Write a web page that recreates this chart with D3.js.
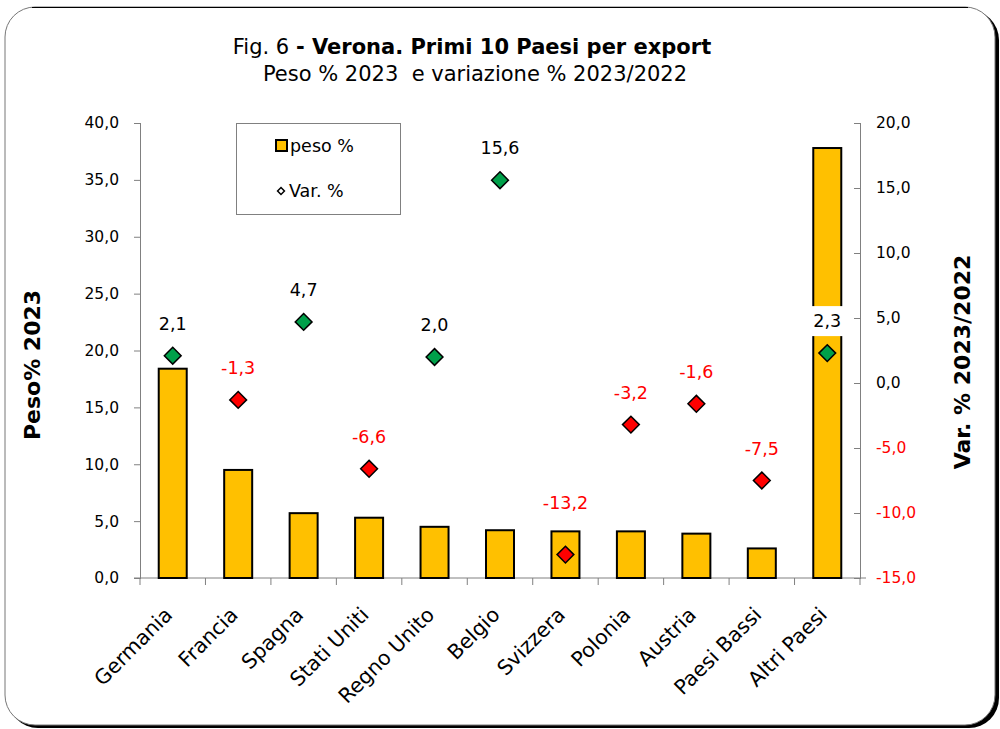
<!DOCTYPE html>
<html>
<head>
<meta charset="utf-8">
<script src="https://cdn.jsdelivr.net/npm/d3@7"></script>
<style>
  body { margin: 0; background: #fff; }
  svg { font-family: "DejaVu Sans", Verdana, sans-serif; }
</style>
</head>
<body>
<svg id="chart" width="1000" height="729"></svg>
<script>
var paesi = ['Germania', 'Francia', 'Spagna', 'Stati Uniti', 'Regno Unito', 'Belgio',
  'Svizzera', 'Polonia', 'Austria', 'Paesi Bassi', 'Altri Paesi'];
var peso = [18.4, 9.5, 5.7, 5.3, 4.5, 4.2, 4.1, 4.1, 3.9, 2.6, 37.8];
var variazione = [2.1, -1.3, 4.7, -6.6, 2.0, 15.6, -13.2, -3.2, -1.6, -7.5, 2.3];
var tickPeso = [0, 5, 10, 15, 20, 25, 30, 35, 40];
var tickVar = [-15, -10, -5, 0, 5, 10, 15, 20];

function drawChart() {
  var svg = d3.select('#chart');
  var fmt = function(v) { return v.toFixed(1).replace('.', ','); };
  var fam = '"DejaVu Sans", Verdana, sans-serif';

  // cornice con ombra
  svg.append('rect')
      .attr('x', 8).attr('y', 10).attr('width', 991).attr('height', 718)
      .attr('rx', 30).attr('fill', '#000');
  svg.append('rect')
      .attr('x', 5).attr('y', 7).attr('width', 990).attr('height', 718)
      .attr('rx', 30).attr('fill', '#fff').attr('stroke', '#777').attr('stroke-width', 1);
  svg.append('line')
      .attr('x1', 32).attr('x2', 968).attr('y1', 7.5).attr('y2', 7.5)
      .attr('stroke', '#000').attr('stroke-width', 1.2);

  // titolo
  var t = svg.append('text').attr('x', 472).attr('y', 54)
      .attr('text-anchor', 'middle').attr('font-size', 21);
  t.append('tspan').text('Fig. 6 ');
  t.append('tspan').attr('font-weight', 'bold').text('- Verona. Primi 10 Paesi per export');
  svg.append('text').attr('x', 475).attr('y', 81)
      .attr('text-anchor', 'middle').attr('font-size', 21)
      .attr('xml:space', 'preserve').style('white-space', 'pre')
      .text('Peso % 2023  e variazione % 2023/2022');

  var pLeft = 140, pRight = 860, pTop = 123, pBottom = 578;

  var x = d3.scaleBand().domain(paesi).range([pLeft, pRight]);
  var yL = d3.scaleLinear().domain([0, 40]).range([pBottom, pTop]);
  var yR = d3.scaleLinear().domain([-15, 20]).range([pBottom, pTop]);

  // asse sinistro
  var gL = svg.append('g').attr('transform', 'translate(' + pLeft + ',0)')
      .call(d3.axisLeft(yL).tickValues(tickPeso).tickFormat(fmt).tickSize(6).tickSizeOuter(0));
  gL.select('.domain').attr('stroke', '#808080');
  gL.selectAll('.tick line').attr('stroke', '#808080').attr('x1', -6).attr('x2', 1);
  gL.selectAll('.tick text').attr('font-size', 15.5).attr('font-family', fam)
      .attr('fill', '#000').attr('x', -21);

  // asse destro
  var gR = svg.append('g').attr('transform', 'translate(' + pRight + ',0)')
      .call(d3.axisRight(yR).tickValues(tickVar).tickFormat(fmt).tickSize(6).tickSizeOuter(0));
  gR.select('.domain').attr('stroke', '#808080');
  gR.selectAll('.tick line').attr('stroke', '#808080').attr('x1', -6).attr('x2', 1);
  gR.selectAll('.tick text').attr('font-size', 15.5).attr('font-family', fam)
      .attr('x', 16).attr('fill', function(d) { return d < 0 ? '#ff0000' : '#000'; });

  // asse x
  var gX = svg.append('g').attr('transform', 'translate(0,' + pBottom + ')');
  gX.append('line').attr('x1', pLeft - 6).attr('x2', pRight + 6).attr('stroke', '#808080');
  gX.selectAll('.tk').data(paesi.concat(['_fine']))
    .enter().append('line')
      .attr('x1', function(d, i) { return pLeft + i * x.step(); })
      .attr('x2', function(d, i) { return pLeft + i * x.step(); })
      .attr('y1', 0).attr('y2', 7).attr('stroke', '#808080');
  gX.selectAll('.lbl').data(paesi)
    .enter().append('text')
      .attr('font-size', 20.5).attr('text-anchor', 'end')
      .attr('transform', function(d) {
        return 'translate(' + (x(d) + x.bandwidth() / 2 + 1) + ',38) rotate(-45)';
      })
      .text(function(d) { return d; });

  // titoli assi
  svg.append('text').attr('transform', 'translate(40,365) rotate(-90)')
      .attr('text-anchor', 'middle').attr('font-size', 22).attr('font-weight', 'bold')
      .text('Peso% 2023');
  svg.append('text').attr('transform', 'translate(970,362) rotate(-90)')
      .attr('text-anchor', 'middle').attr('font-size', 22).attr('font-weight', 'bold')
      .text('Var. % 2023/2022');

  // barre
  var bw = 28;
  svg.selectAll('.bar').data(paesi)
    .enter().append('rect')
      .attr('x', function(d) { return x(d) + x.bandwidth() / 2 - bw / 2; })
      .attr('y', function(d, i) { return yL(peso[i]); })
      .attr('width', bw)
      .attr('height', function(d, i) { return pBottom - yL(peso[i]); })
      .attr('fill', '#ffc000').attr('stroke', '#000').attr('stroke-width', 2);

  // etichette var: sopra il rombo, e sopra la barra se il rombo e' dentro
  var ultimo = paesi[paesi.length - 1];
  var lbl = svg.selectAll('.vl').data(paesi)
    .enter().append('g')
      .attr('transform', function(d, i) {
        var ly = yR(variazione[i]) - 32;
        if (d !== ultimo) ly = Math.min(ly, yL(peso[i]) - 28);
        return 'translate(' + (x(d) + x.bandwidth() / 2) + ',' + ly + ')';
      });
  lbl.filter(function(d) { return d === ultimo; })
    .append('rect').attr('x', -16).attr('y', -15).attr('width', 32).attr('height', 30).attr('fill', '#fff');
  lbl.append('text')
      .attr('text-anchor', 'middle').attr('dy', '0.35em').attr('font-size', 17.5)
      .attr('fill', function(d, i) { return variazione[i] < 0 ? '#ff0000' : '#000'; })
      .text(function(d, i) { return fmt(variazione[i]); });

  // rombi
  var diamond = d3.symbol().type(d3.symbolDiamond2).size(180);
  svg.selectAll('.dm').data(paesi)
    .enter().append('path')
      .attr('d', diamond)
      .attr('transform', function(d, i) {
        return 'translate(' + (x(d) + x.bandwidth() / 2) + ',' + yR(variazione[i]) + ')';
      })
      .attr('fill', function(d, i) { return variazione[i] < 0 ? '#ff0000' : '#00a04a'; })
      .attr('stroke', '#000').attr('stroke-width', 1.5);

  // legenda
  var lg = svg.append('g');
  lg.append('rect').attr('x', 236.5).attr('y', 123.5).attr('width', 164).attr('height', 91)
      .attr('fill', '#fff').attr('stroke', '#808080');
  lg.append('rect').attr('x', 276).attr('y', 140).attr('width', 11).attr('height', 11)
      .attr('fill', '#ffc000').attr('stroke', '#000').attr('stroke-width', 2);
  lg.append('text').attr('x', 290).attr('y', 152).attr('font-size', 17.5).text('peso %');
  lg.append('path').attr('d', d3.symbol().type(d3.symbolDiamond2).size(30))
      .attr('transform', 'translate(281,191)')
      .attr('fill', '#fff').attr('stroke', '#000').attr('stroke-width', 1.5);
  lg.append('text').attr('x', 289).attr('y', 197).attr('font-size', 17.5).text('Var. %');
}

drawChart();
</script>
</body>
</html>
